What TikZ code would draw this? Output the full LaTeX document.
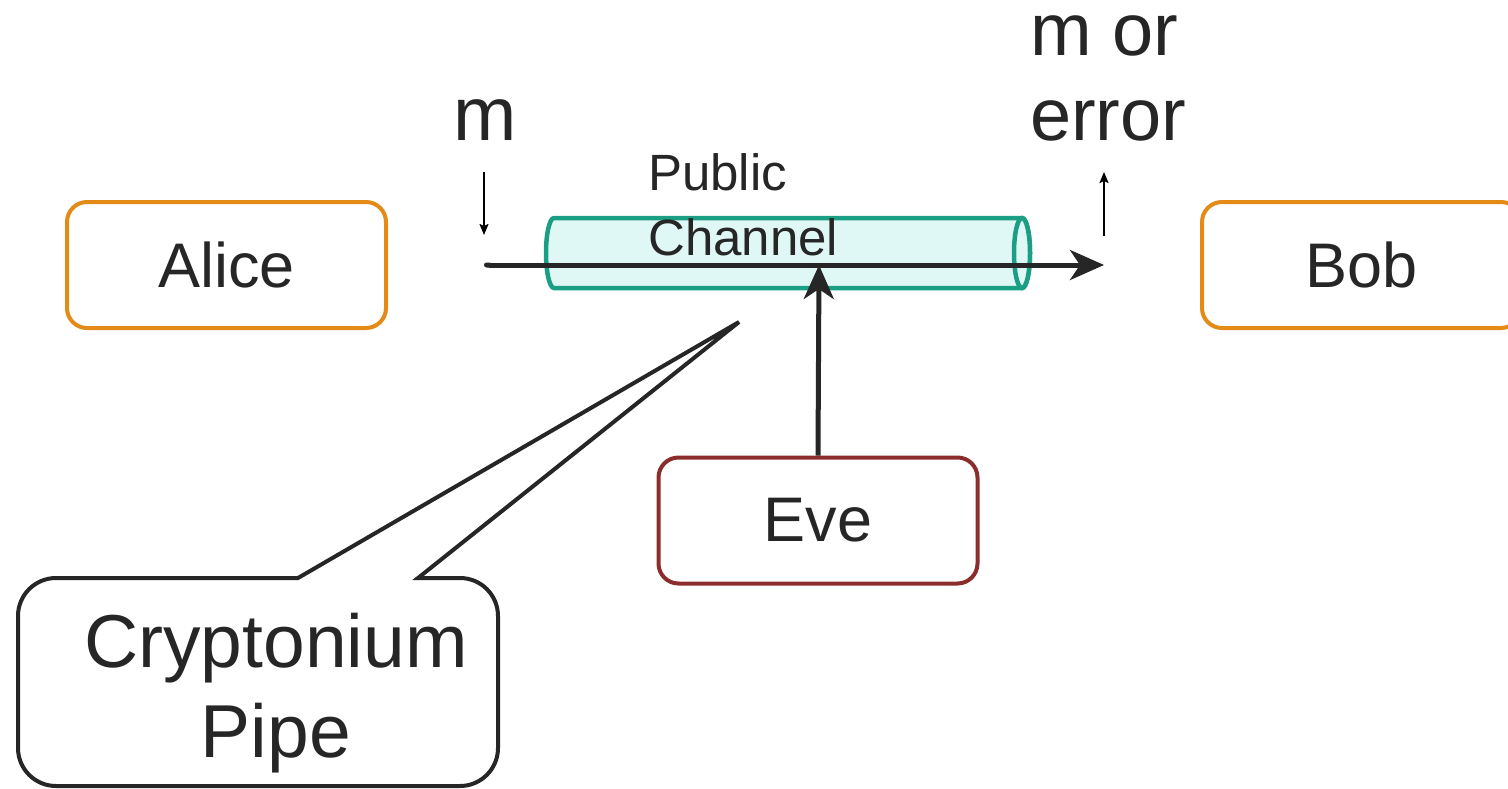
\documentclass[tikz,border=0pt]{standalone}
\usepackage{fontspec}
\setmainfont{Liberation Sans}
\usetikzlibrary{arrows.meta}
\definecolor{ink}{HTML}{262626}
\definecolor{orangeb}{HTML}{E38A17}
\definecolor{redb}{HTML}{8C2D2D}
\definecolor{teal}{HTML}{1A9E84}
\definecolor{pipefill}{HTML}{E0F8F5}
\tikzset{
  party/.style={draw=orangeb, line width=4pt, rounded corners=20pt, minimum width=319pt, minimum height=126pt, text=ink, font=\fontsize{63}{70}\selectfont, inner sep=0pt},
  evebox/.style={party, draw=redb},
  conn/.style={draw=ink, line width=5pt, -{Stealth[length=34pt,width=30pt,inset=10pt]}},
  small/.style={draw=black, line width=1.8pt, -{Stealth[length=11pt,width=9pt,inset=2pt]}},
  lbl/.style={text=ink, inner sep=0pt},
  pipe/.style={draw=teal, fill=pipefill, line width=4.5pt},
  callout/.style={draw=ink, fill=white, line width=4pt, line join=miter}
}
\begin{document}
\begin{tikzpicture}[x=1pt,y=-1pt]
\useasboundingbox (0,0) rectangle (1508,788);
% pipe
\draw[pipe] (554,218) -- (1022,218) arc(-90:90:8 and 35) -- (554,288) arc(90:270:8 and 35) -- cycle;
\draw[pipe] (1022,253) ellipse (8 and 35);
% boxes
\node[party] (Alice) at (226.5,265) {Alice};
\node[party] (Bob) at (1361.5,265) {Bob};
\node[evebox] (Eve) at (818,520.5) {Eve};
% callout
\coordinate (tip) at (739,322);
\draw[callout] (18,682) [rounded corners=38pt] -- (18,578) [sharp corners] -- (298,578) -- (tip) -- (418,578) [rounded corners=38pt] -- (498,578) -- (498,786) -- (18,786) -- cycle;
\node[lbl, anchor=base, align=center, font=\fontsize{75}{90}\selectfont] (crypt) at (276,757) {Cryptonium\\Pipe};
% labels
\node[lbl, anchor=base west, align=left, font=\fontsize{51}{65}\selectfont] (pub) at (648,255) {Public\\Channel};
\node[lbl, anchor=base, font=\fontsize{76}{85}\selectfont] (m) at (485,140) {m};
\node[lbl, anchor=base west, align=left, font=\fontsize{74}{85}\selectfont] (merr) at (1030,140) {m or\\error};
% connectors
\coordinate (mstart) at (484,265);
\coordinate (mend) at (1104,265);
\coordinate (tap) at (819,265);
\draw[conn, {Round Cap[]}-{Stealth[length=34pt,width=30pt,inset=10pt]}] (mstart) -- (mend);
\draw[conn] (Eve.north) -- (tap);
\coordinate (min1) at (484,172);
\coordinate (min2) at (484,235);
\draw[small] (min1) -- (min2);
\coordinate (mout1) at (1104,236);
\coordinate (mout2) at (1104,172);
\draw[small] (mout1) -- (mout2);
\end{tikzpicture}
\end{document}
